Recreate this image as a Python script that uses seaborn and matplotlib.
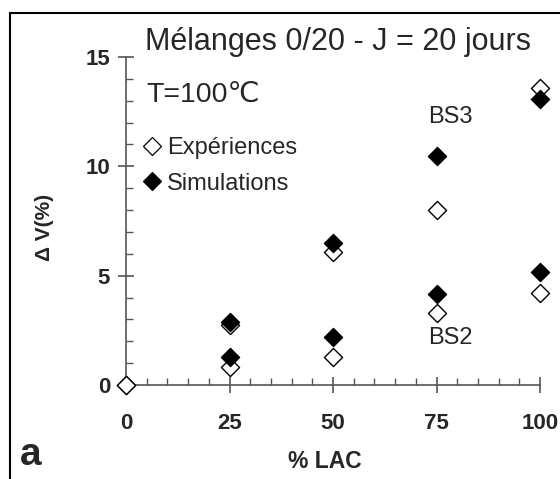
import matplotlib
matplotlib.use("Agg")
import matplotlib.pyplot as plt
from matplotlib.ticker import MultipleLocator
from matplotlib.lines import Line2D
import seaborn as sns
import pandas as pd

# values
lac = [0, 25, 50, 75, 100]
exp_bs3 = [0, 2.75, 6.1, 8.0, 13.6]
exp_bs2 = [0, 0.82, 1.3, 3.3, 4.2]
lac_sim = [25, 50, 75, 100]
sim_bs3 = [2.9, 6.5, 10.45, 13.1]
sim_bs2 = [1.28, 2.2, 4.15, 5.15]

x_ticks = [0, 25, 50, 75, 100]
y_ticks = [0, 5, 10, 15]

sns.set_theme(style="ticks")
plt.rcParams['font.family'] = ['Liberation Sans', 'DejaVu Sans']

df_exp = pd.DataFrame({'lac': lac + lac, 'dv': exp_bs3 + exp_bs2})
df_sim = pd.DataFrame({'lac': lac_sim + lac_sim, 'dv': sim_bs3 + sim_bs2})

fig = plt.figure(figsize=(5.6, 4.79), dpi=100)
ax = fig.add_axes([126 / 560, 1 - 385 / 479, 414 / 560, 328 / 479])

sns.scatterplot(data=df_exp, x='lac', y='dv', marker='D', s=85, color='white',
                edgecolor='black', linewidth=1.0, ax=ax, clip_on=False, zorder=3)
sns.scatterplot(data=df_sim, x='lac', y='dv', marker='D', s=85, color='black',
                edgecolor='black', linewidth=1.0, ax=ax, clip_on=False, zorder=4)

ax.set_xlim(0, 100)
ax.set_ylim(0, 15)
ax.set_xticks(x_ticks)
ax.set_yticks(y_ticks)
ax.xaxis.set_minor_locator(MultipleLocator(5))
ax.yaxis.set_minor_locator(MultipleLocator(1))
for s in ['top', 'right']:
    ax.spines[s].set_visible(False)
for s in ['left', 'bottom']:
    ax.spines[s].set_color('#555555')
    ax.spines[s].set_linewidth(1.2)
ax.tick_params(which='major', direction='inout', length=11, width=1.2, color='#555555',
               labelsize=16)
ax.tick_params(axis='x', which='major', pad=15)
ax.tick_params(axis='y', which='major', pad=6)
ax.tick_params(which='minor', direction='in', length=5, width=1.0, color='#555555')
for lab in ax.get_xticklabels() + ax.get_yticklabels():
    lab.set_fontweight('bold')
ax.set_xlabel('')
ax.set_ylabel('')

handles = [Line2D([], [], marker='D', ls='none', mfc='white', mec='black', ms=9, mew=0.9),
           Line2D([], [], marker='D', ls='none', mfc='black', mec='black', ms=9, mew=0.9)]
ax.legend(handles, ['Expériences', 'Simulations'], loc='upper left',
          bbox_to_anchor=(0.0, 0.805), frameon=False, fontsize=17,
          handlelength=0.8, handletextpad=0.25, labelspacing=0.56, borderaxespad=0.3)

fig.text(338 / 560, 1 - 42 / 479, 'Mélanges 0/20 - J = 20 jours', fontsize=22,
         ha='center', va='center')
fig.text(146 / 560, 1 - 95 / 479, 'T=100℃', fontsize=20.5, ha='left', va='center')
fig.text(450 / 560, 1 - 117 / 479, 'BS3', fontsize=17, ha='center', va='center')
fig.text(450 / 560, 1 - 338 / 479, 'BS2', fontsize=17, ha='center', va='center')
fig.text(325 / 560, 1 - 461 / 479, '% LAC', fontsize=16.5, fontweight='bold',
         ha='center', va='center')
fig.text(44 / 560, 1 - 227 / 479, 'Δ V(%)', fontsize=15, fontweight='bold',
         rotation=90, ha='center', va='center')
fig.text(31 / 560, 1 - 455 / 479, 'a', fontsize=28, fontweight='bold',
         ha='center', va='center')

# frame around the panel
fig.add_artist(Line2D([10 / 560, 10 / 560], [0, 1 - 13 / 479], color='black', lw=1.5))
fig.add_artist(Line2D([10 / 560, 1], [1 - 13 / 479, 1 - 13 / 479], color='black', lw=1.5))

fig.savefig('out.png', dpi=100)
